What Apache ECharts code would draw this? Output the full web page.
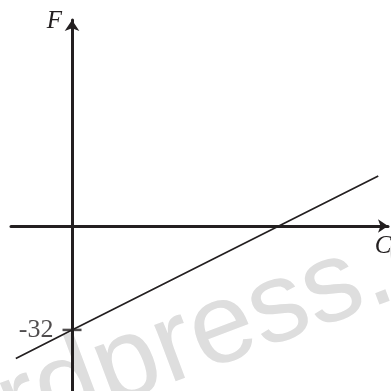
<!DOCTYPE html>
<html>
<head>
<meta charset="utf-8">
<script src="https://cdn.jsdelivr.net/npm/echarts@6/dist/echarts.min.js"></script>
<style>html,body{margin:0;padding:0;background:#fff;}#chart{width:391px;height:391px;}</style>
</head>
<body>
<div id="chart"></div>
<script>
// Celsius values (x) and Fahrenheit values (y) along the plotted line
const celsius = [-4.9, 0, 26.7];
const fahrenheit = [-40.8, -32, 15.4];
// labelled tick on the F axis
const fTicks = [-32];
const xName = 'C';
const yName = 'F';
const watermark = 'rdpress.c';

const ink = '#231f20';
const chart = echarts.init(document.getElementById('chart'));
chart.setOption({
  backgroundColor: '#fff',
  animation: false,
  graphic: [{
    type: 'text',
    z: -10,
    x: 23, y: 466,
    rotation: 0.36,
    style: {
      text: watermark,
      font: '114px "Liberation Sans", Arial, sans-serif',
      fill: '#dedede',
      textAlign: 'left',
      textVerticalAlign: 'bottom'
    }
  }],
  grid: {left: 11, right: 3, top: 20, bottom: 0, containLabel: false, outerBoundsMode: 'none'},
  xAxis: {
    type: 'value',
    min: -5.32, max: 27.55,
    name: xName,
    nameLocation: 'end',
    nameGap: -5,
    nameTextStyle: {
      fontFamily: '"Liberation Serif", serif', fontStyle: 'italic', fontSize: 25,
      color: ink, align: 'center', verticalAlign: 'top', padding: [8, 0, 0, 0]
    },
    splitLine: {show: false},
    axisTick: {show: false},
    axisLabel: {show: false},
    axisLine: {onZero: true, symbol: ['none', 'arrow'], symbolSize: [10, 10],
      lineStyle: {color: ink, width: 3}}
  },
  yAxis: {
    type: 'value',
    min: -50.8, max: 63.4,
    name: yName,
    nameLocation: 'end',
    nameGap: -1,
    nameTextStyle: {
      fontFamily: '"Liberation Serif", serif', fontStyle: 'italic', fontSize: 25,
      color: ink, align: 'right', verticalAlign: 'middle', padding: [0, 10, 0, 0]
    },
    splitLine: {show: false},
    axisTick: {show: false},
    axisLabel: {show: false},
    axisLine: {onZero: true, symbol: ['none', 'arrow'], symbolSize: [11, 11],
      lineStyle: {color: ink, width: 3}}
  },
  series: [{
    type: 'line',
    data: celsius.map((c, i) => [c, fahrenheit[i]]),
    showSymbol: false,
    symbol: 'none',
    lineStyle: {color: ink, width: 1.7},
    z: 5
  }, {
    type: 'scatter',
    data: fTicks.map(v => [0, v]),
    symbol: 'rect',
    symbolSize: [19, 2.5],
    itemStyle: {color: ink},
    label: {
      show: true,
      position: 'left',
      distance: 9,
      formatter: p => String(p.value[1]),
      fontFamily: '"Liberation Serif", serif', fontSize: 26, color: ink
    },
    z: 6
  }]
});
</script>
</body>
</html>
